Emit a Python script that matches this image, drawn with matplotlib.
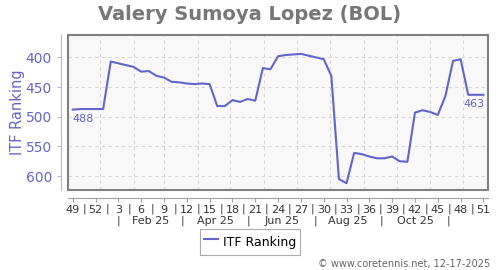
import numpy as np
import matplotlib.pyplot as plt
import matplotlib.transforms as mtransforms
from matplotlib.patches import Rectangle

# data, one point per week (week 49 of 2024 .. week 51 of 2025)
title = "Valery Sumoya Lopez (BOL)"
start_date = "2024-12-07"
rank = [488, 487, 487, 487, 487, 407, 410, 413, 416, 424,
        423, 431, 434, 441, 442, 444, 445, 444, 445, 482,
        482, 472, 475, 470, 473, 418, 420, 398, 396, 395,
        394, 397, 400, 403, 431, 605, 612, 561, 563, 567,
        570, 570, 567, 575, 576, 493, 489, 492, 497, 465,
        406, 403, 463, 463, 463]
week_labels = ["49", "52", "3", "6", "9", "12", "15", "18", "21", "24",
               "27", "30", "33", "36", "39", "42", "45", "48", "51"]
month_labels = ["Feb 25", "Apr 25", "Jun 25", "Aug 25", "Oct 25"]
month_seps = ["2025-01-18", "2025-03-18", "2025-05-18", "2025-07-18",
              "2025-09-17", "2025-11-18"]
y_ticks = [400, 450, 500, 550, 600]

BLUE = "#6464cc"

t0 = np.datetime64(start_date)


def to_idx(d):
    return (np.datetime64(d) - t0).astype(int) / 7.0


fig = plt.figure(figsize=(5, 2.7), dpi=100)
ax = fig.add_axes([0.136, 0.296, 0.84, 0.574])
ax.set_facecolor("#f8f8f8")

x = np.arange(len(rank))
ax.plot(x, rank, color=BLUE, lw=1.5, zorder=3)

ax.set_xlim(-0.62, 54.6)
ax.set_ylim(623.6, 362.4)

# grid: horizontal at y ticks, vertical at month starts
ax.set_yticks(y_ticks)
ax.yaxis.grid(True, ls=(0, (3, 3)), color="#d8d8d8", lw=0.8)
for m in range(1, 13):
    ax.axvline(to_idx("2025-%02d-01" % m), ls=(0, (3, 3)), color="#d8d8d8", lw=0.8, zorder=1)

# frame + detached axis lines
ax.add_patch(Rectangle((0, 0), 1, 1, transform=ax.transAxes, fill=False,
                       ec="#808080", lw=1.5, clip_on=False, zorder=5))
ax.spines["top"].set_visible(False)
ax.spines["right"].set_visible(False)
ax.spines["left"].set_position(("outward", 5))
ax.spines["left"].set_color("#b4b4e4")
ax.spines["bottom"].set_position(("outward", 6))
ax.spines["bottom"].set_color("#a0a0a0")

ax.tick_params(axis="y", colors="#b4b4e4", labelcolor=BLUE, labelsize=10, length=3)
ax.set_ylabel("ITF Ranking", color=BLUE, fontsize=10.5)
ax.yaxis.set_label_coords(-0.102, 0.5)

# week ticks with "|" separators
wk_pos = np.arange(len(week_labels)) * 3
ax.set_xticks(wk_pos)
ax.set_xticklabels(week_labels)
ax.set_xticks(wk_pos[:-1] + 1.5, minor=True)
ax.set_xticklabels(["|"] * (len(wk_pos) - 1), minor=True)
ax.tick_params(axis="x", which="major", colors="#a0a0a0", labelcolor="#333333",
               labelsize=8, length=3, pad=2)
ax.tick_params(axis="x", which="minor", length=0, labelcolor="#333333",
               labelsize=8, pad=3.5)

# month row
trans = mtransforms.blended_transform_factory(ax.transData, ax.transAxes)
seps = [to_idx(d) for d in month_seps]
for s in seps:
    ax.text(s, -0.2, "|", transform=trans, ha="center", va="center",
            fontsize=8, color="#333333")
for i, lab in enumerate(month_labels):
    ax.text((seps[i] + seps[i + 1]) / 2, -0.2, lab, transform=trans,
            ha="center", va="center", fontsize=8, color="#333333")

# first / last value labels
ax.annotate(str(rank[0]), (0, rank[0]), xytext=(0, -9), textcoords="offset pixels",
            ha="left", va="center", fontsize=8, color=BLUE)
ax.annotate(str(rank[-1]), (len(rank) - 1, rank[-1]), xytext=(1, -9),
            textcoords="offset pixels", ha="right", va="center", fontsize=8, color=BLUE)

fig.text(0.5, 0.945, title, ha="center", va="center", fontsize=14,
         fontweight="bold", color="#777777")

leg = fig.legend([ax.lines[0]], ["ITF Ranking"], loc="center", bbox_to_anchor=(0.5, 0.104),
                 fontsize=9, handlelength=1.1, handletextpad=0.4, borderpad=0.3,
                 handleheight=1.9, fancybox=False, edgecolor="#aaaaaa", framealpha=1)
leg.get_frame().set_linewidth(0.8)

fig.text(0.98, 0.022, "© www.coretennis.net, 12-17-2025", ha="right", va="center",
         fontsize=7, color="#666666")

fig.savefig("out.png", dpi=100)
